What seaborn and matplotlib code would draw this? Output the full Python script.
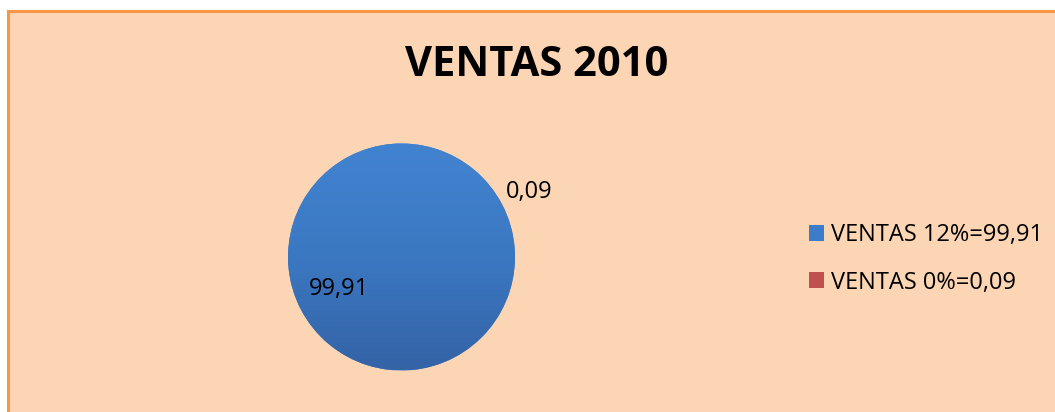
import numpy as np
import seaborn as sns
import matplotlib.pyplot as plt
from matplotlib.patches import Rectangle, Circle
from matplotlib.colors import LinearSegmentedColormap

# datos del gráfico
categorias = ["VENTAS 12%", "VENTAS 0%"]
valores = [99.91, 0.09]
etiquetas = ["99,91", "0,09"]
leyenda = ["VENTAS 12%=99,91", "VENTAS 0%=0,09"]
titulo = "VENTAS 2010"

sns.set_theme(style="white")
plt.rcParams['font.family'] = ['Open Sans', 'DejaVu Sans']
plt.rcParams['text.color'] = 'black'

W, H = 1055, 412
fig = plt.figure(figsize=(W / 100, H / 100), dpi=100)
fig.patch.set_facecolor("white")

# fondo del área del gráfico (estilo Excel)
fondo = Rectangle((8 / W, -0.1), 1.2, 1 - 11 / H + 0.1, transform=fig.transFigure,
                  facecolor="#FCD5B4", edgecolor="#F79646", linewidth=2.2, zorder=-5)
fig.patches.append(fondo)

colores = ["#3D7CC9", "#C0504D"]

cx, cy, r = 401.5, H - 257, 113.5
lim = 1.25
ax = fig.add_axes([(cx - lim * r) / W, (cy - lim * r) / H, 2 * lim * r / W, 2 * lim * r / H])
ax.set_zorder(2)
ax.patch.set_visible(False)
wedges, _ = ax.pie(valores, colors=colores, startangle=27,
                   wedgeprops=dict(linewidth=0))

# degradado suave sobre el círculo (efecto bisel de Excel)
cmap = LinearSegmentedColormap.from_list("bisel", ["#3463A6", "#3B78C2", "#4283D0"])
grad = np.linspace(0, 1, 256).reshape(-1, 1)
img = ax.imshow(grad, cmap=cmap, extent=(-1, 1, -1, 1), origin="lower",
                aspect="auto", zorder=1.5)
circulo = Circle((0, 0), wedges[0].r, transform=ax.transData)
img.set_clip_path(circulo)
ax.set_xlim(-lim, lim)
ax.set_ylim(-lim, lim)
ax.set_aspect("equal")

distancias = [0.62, 1.265]
for w, txt, d in zip(wedges, etiquetas, distancias):
    ang = np.deg2rad((w.theta1 + w.theta2) / 2)
    ax.text(d * np.cos(ang), d * np.sin(ang), txt, ha="center", va="center",
            fontsize=17, color="black", zorder=3)

fig.text(537 / W, 1 - 76 / H, titulo, ha="center", va="baseline",
         fontsize=30, fontweight="bold", color="black")

leg = fig.legend(wedges, leyenda, loc="center left",
                 bbox_to_anchor=(797 / W, 1 - 259 / H), frameon=False,
                 fontsize=17, handlelength=0.65, handleheight=0.65,
                 handletextpad=0.3, labelspacing=0.98, borderpad=0)
for t in leg.get_texts():
    t.set_color("black")

fig.savefig("out.png", dpi=100, facecolor=fig.get_facecolor())
